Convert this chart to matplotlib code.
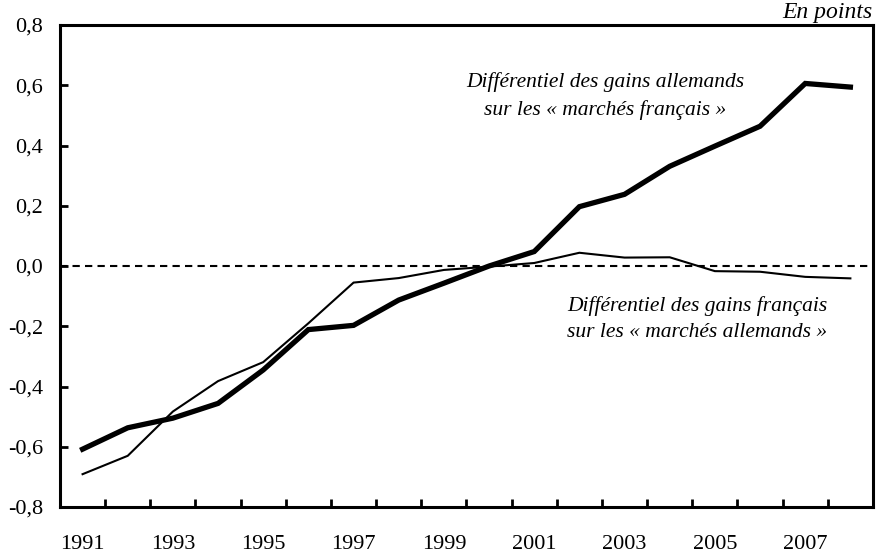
import matplotlib
matplotlib.use("Agg")
import matplotlib.pyplot as plt
from matplotlib.ticker import FixedLocator, FuncFormatter

years = list(range(1991, 2009))
gains_allemands = [-0.608, -0.537, -0.505, -0.456, -0.345, -0.211, -0.197, -0.113,
                   -0.057, 0.000, 0.048, 0.197, 0.238, 0.331, 0.398, 0.464, 0.606, 0.594]
gains_francais = [-0.691, -0.630, -0.483, -0.382, -0.319, -0.190, -0.055, -0.040,
                  -0.013, -0.002, 0.010, 0.044, 0.028, 0.029, -0.017, -0.019, -0.036, -0.041]
y_ticks = [-0.8, -0.6, -0.4, -0.2, 0.0, 0.2, 0.4, 0.6, 0.8]

plt.rcParams['font.family'] = ['Liberation Serif', 'DejaVu Serif']

fig = plt.figure(figsize=(8.77, 5.56), dpi=100)
ax = fig.add_axes([0.0684, 0.0881, 0.9270, 0.8669])

x = list(range(len(years)))
ax.axhline(0, color='black', lw=1.5, linestyle=(0, (3.5, 2.5)), zorder=1)
ax.plot(x, gains_francais, color='black', lw=1.5, solid_joinstyle='miter', zorder=2)
ax.plot(x, gains_allemands, color='black', lw=3.8, solid_joinstyle='miter', zorder=3)

ax.set_xlim(-0.5, len(years) - 0.5)
ax.set_ylim(-0.8, 0.8)

# category boundaries carry the tick marks, labels sit on the categories
ax.xaxis.set_major_locator(FixedLocator([i + 0.5 for i in range(len(years) - 1)]))
ax.xaxis.set_major_formatter(FuncFormatter(lambda v, p: ''))
ax.xaxis.set_minor_locator(FixedLocator(x[::2]))
ax.xaxis.set_minor_formatter(FuncFormatter(lambda v, p: str(years[int(round(v))])))
ax.tick_params(axis='x', which='major', direction='in', length=6, width=2)
ax.tick_params(axis='x', which='minor', length=0, pad=20, labelsize=16)

ax.set_yticks(y_ticks)
ax.yaxis.set_major_formatter(FuncFormatter(lambda v, p: f"{v:.1f}".replace('.', ',').replace('-0,0', '0,0')))
ax.tick_params(axis='y', direction='in', length=6, width=2, pad=12, labelsize=16)

for s in ax.spines.values():
    s.set_linewidth(2.2)

fig.text(0.690, 0.827, "Différentiel des gains allemands\nsur les « marchés français »",
         ha='center', va='center', fontsize=15.5, style='italic', linespacing=1.55)
fig.text(0.795, 0.426, "Différentiel des gains français\nsur les « marchés allemands »",
         ha='center', va='center', fontsize=15.5, style='italic', linespacing=1.55)
fig.text(0.9954, 0.978, "En points", ha='right', va='center', fontsize=17, style='italic')

fig.savefig("out.png", dpi=100)
